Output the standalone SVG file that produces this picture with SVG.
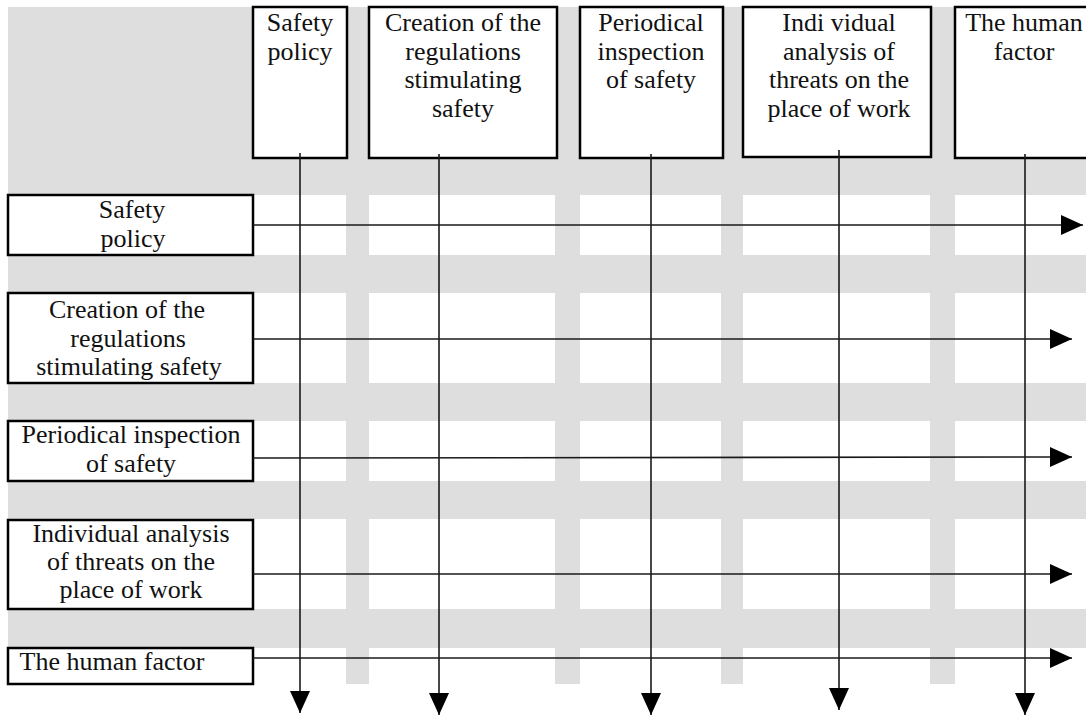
<svg xmlns="http://www.w3.org/2000/svg" width="1086" height="715" viewBox="0 0 1086 715">
<style>
.box{fill:#fff;stroke:#000;stroke-width:2.5}
.t{font-family:"Liberation Serif","Times New Roman",serif;font-size:26px;fill:#111;text-anchor:middle}
.c{fill:none;stroke:#1a1a1a;stroke-width:1.6}
.g{fill:#dedede}
.w{fill:#fff}
</style>
<defs>
<marker id="ah" markerUnits="userSpaceOnUse" markerWidth="22" markerHeight="20" refX="22" refY="10" orient="auto">
<path d="M0,0 L22,10 L0,20 z" fill="#000"/>
</marker>
</defs>
<rect width="1086" height="715" fill="#fff"/>
<g id="background">
<rect class="g" x="8" y="7" width="1078" height="641"/>
<rect class="w" x="253" y="195" width="93" height="60"/>
<rect class="w" x="369" y="195" width="186" height="60"/>
<rect class="w" x="580" y="195" width="141" height="60"/>
<rect class="w" x="743" y="195" width="187" height="60"/>
<rect class="w" x="955" y="195" width="131" height="60"/>
<rect class="w" x="253" y="293" width="93" height="90"/>
<rect class="w" x="369" y="293" width="186" height="90"/>
<rect class="w" x="580" y="293" width="141" height="90"/>
<rect class="w" x="743" y="293" width="187" height="90"/>
<rect class="w" x="955" y="293" width="131" height="90"/>
<rect class="w" x="253" y="421" width="93" height="60"/>
<rect class="w" x="369" y="421" width="186" height="60"/>
<rect class="w" x="580" y="421" width="141" height="60"/>
<rect class="w" x="743" y="421" width="187" height="60"/>
<rect class="w" x="955" y="421" width="131" height="60"/>
<rect class="w" x="253" y="519" width="93" height="90"/>
<rect class="w" x="369" y="519" width="186" height="90"/>
<rect class="w" x="580" y="519" width="141" height="90"/>
<rect class="w" x="743" y="519" width="187" height="90"/>
<rect class="w" x="955" y="519" width="131" height="90"/>
<rect class="g" x="346" y="648" width="23" height="36"/>
<rect class="g" x="555" y="648" width="25" height="36"/>
<rect class="g" x="721" y="648" width="22" height="36"/>
<rect class="g" x="930" y="648" width="25" height="36"/>
</g>
<g id="col1"><rect class="box" x="253" y="7" width="94" height="151"/>
<text class="t" x="300" y="31">Safety</text><text class="t" x="300" y="60">policy</text></g>
<g id="col2"><rect class="box" x="369" y="7" width="188" height="151"/>
<text class="t" x="463" y="31">Creation of the</text><text class="t" x="463" y="60">regulations</text><text class="t" x="463" y="88">stimulating</text><text class="t" x="463" y="117">safety</text></g>
<g id="col3"><rect class="box" x="580" y="7" width="143" height="151"/>
<text class="t" x="651" y="31">Periodical</text><text class="t" x="651" y="60">inspection</text><text class="t" x="651" y="88">of safety</text></g>
<g id="col4"><rect class="box" x="743" y="7" width="188" height="150"/>
<text class="t" x="839" y="31">Indi vidual</text><text class="t" x="839" y="60">analysis of</text><text class="t" x="839" y="88">threats on the</text><text class="t" x="839" y="117">place of work</text></g>
<g id="col5"><rect class="box" x="955" y="7" width="150" height="151"/>
<text class="t" x="1024" y="31">The human</text><text class="t" x="1024" y="60">factor</text></g>
<g id="row1"><rect class="box" x="8" y="195" width="245" height="60"/>
<text class="t" x="132" y="218">Safety</text><text class="t" x="133" y="247">policy</text></g>
<g id="row2"><rect class="box" x="8" y="293" width="245" height="90"/>
<text class="t" x="127" y="318">Creation of the</text><text class="t" x="128" y="347">regulations</text><text class="t" x="129" y="375">stimulating safety</text></g>
<g id="row3"><rect class="box" x="8" y="421" width="245" height="60"/>
<text class="t" x="131" y="443">Periodical inspection</text><text class="t" x="131" y="472">of safety</text></g>
<g id="row4"><rect class="box" x="8" y="520" width="245" height="89"/>
<text class="t" x="131" y="542">Individual analysis</text><text class="t" x="131" y="570">of threats on the</text><text class="t" x="131" y="598">place of work</text></g>
<g id="row5"><rect class="box" x="8" y="648" width="245" height="36"/>
<text class="t" x="112" y="670">The human factor</text></g>
<g id="connectors">
<line class="c" x1="300" y1="153" x2="300" y2="713" marker-end="url(#ah)"/>
<line class="c" x1="439" y1="154" x2="439" y2="715" marker-end="url(#ah)"/>
<line class="c" x1="651" y1="154" x2="651" y2="715" marker-end="url(#ah)"/>
<line class="c" x1="839" y1="150" x2="839" y2="710" marker-end="url(#ah)"/>
<line class="c" x1="1025" y1="154" x2="1025" y2="715" marker-end="url(#ah)"/>
<line class="c" x1="253" y1="225" x2="1083" y2="225" marker-end="url(#ah)"/>
<line class="c" x1="253" y1="339" x2="1072" y2="339" marker-end="url(#ah)"/>
<line class="c" x1="253" y1="458" x2="1072" y2="457" marker-end="url(#ah)"/>
<line class="c" x1="253" y1="574" x2="1072" y2="574" marker-end="url(#ah)"/>
<line class="c" x1="253" y1="658" x2="1072" y2="658" marker-end="url(#ah)"/>
</g>
</svg>
